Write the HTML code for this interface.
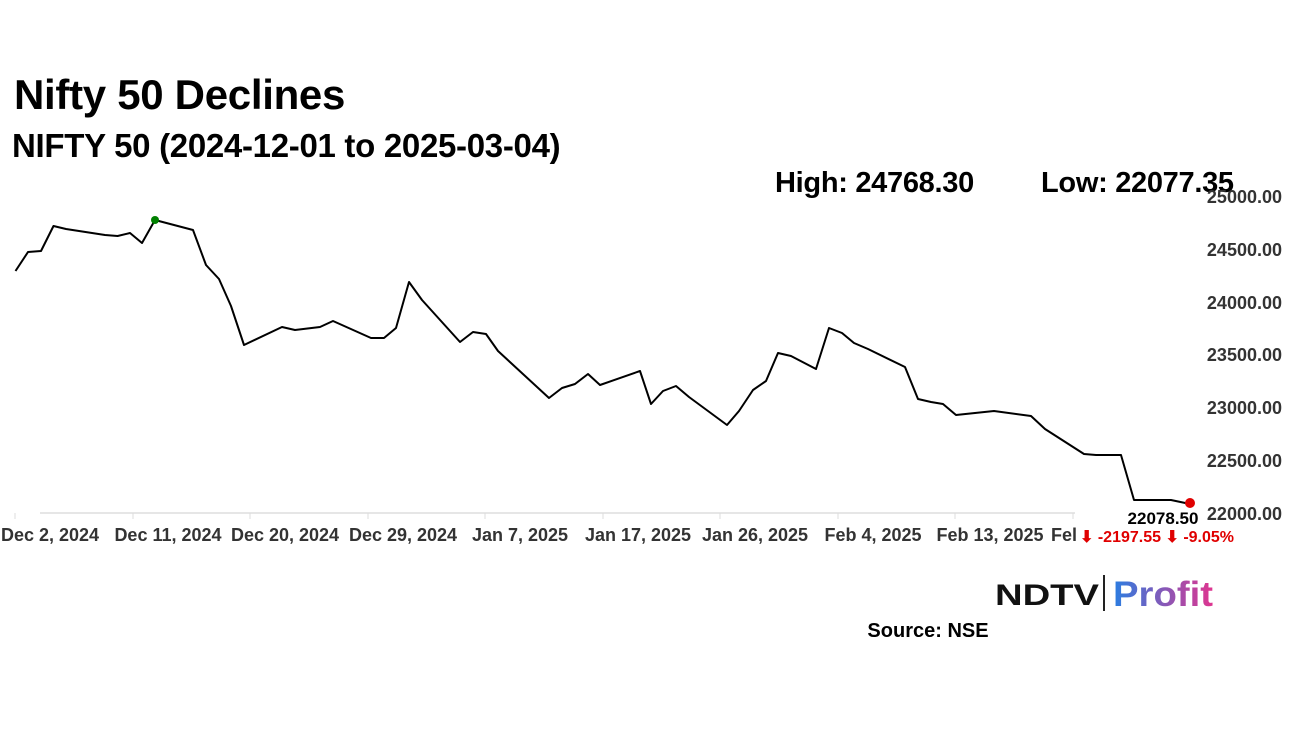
<!DOCTYPE html>
<html><head><meta charset="utf-8"><style>
body{margin:0;width:1296px;height:729px;background:#fff;overflow:hidden;font-family:"Liberation Sans",sans-serif;}
.t{position:absolute;white-space:nowrap;font-weight:bold;color:#000;}
</style></head><body>
<div class="t" style="left:14px;top:71px;font-size:42px;letter-spacing:-0.3px;">Nifty 50 Declines</div>
<div class="t" style="left:12px;top:127px;font-size:33px;letter-spacing:-0.3px;">NIFTY 50 (2024-12-01 to 2025-03-04)</div>
<div class="t" style="left:775px;top:167px;font-size:29px;letter-spacing:-0.3px;">High: 24768.30</div>
<div class="t" style="left:1041px;top:167px;font-size:29px;letter-spacing:-0.3px;">Low: 22077.35</div>
<svg width="1296" height="729" style="position:absolute;left:0;top:0" font-family="Liberation Sans,sans-serif" font-weight="bold">
<line x1="40" y1="513" x2="1075" y2="513" stroke="#ddd" stroke-width="1.5"/>
<g stroke="#ddd"><line x1="15" y1="513" x2="15" y2="519"/><line x1="133" y1="513" x2="133" y2="519"/><line x1="250" y1="513" x2="250" y2="519"/><line x1="368" y1="513" x2="368" y2="519"/><line x1="485" y1="513" x2="485" y2="519"/><line x1="603" y1="513" x2="603" y2="519"/><line x1="720" y1="513" x2="720" y2="519"/><line x1="838" y1="513" x2="838" y2="519"/><line x1="955" y1="513" x2="955" y2="519"/><line x1="1073" y1="513" x2="1073" y2="519"/></g>
<g font-size="18" fill="#333" text-anchor="middle">
<text x="50" y="541">Dec 2, 2024</text><text x="168" y="541">Dec 11, 2024</text><text x="285" y="541">Dec 20, 2024</text><text x="403" y="541">Dec 29, 2024</text><text x="520" y="541">Jan 7, 2025</text><text x="638" y="541">Jan 17, 2025</text><text x="755" y="541">Jan 26, 2025</text><text x="873" y="541">Feb 4, 2025</text><text x="990" y="541">Feb 13, 2025</text><text x="1064" y="541">Fel</text>
</g>
<g font-size="18" fill="#333" text-anchor="end">
<text x="1282" y="203">25000.00</text><text x="1282" y="256">24500.00</text><text x="1282" y="309">24000.00</text><text x="1282" y="361">23500.00</text><text x="1282" y="414">23000.00</text><text x="1282" y="467">22500.00</text><text x="1282" y="520">22000.00</text>
</g>
<polyline fill="none" stroke="#000" stroke-width="2" stroke-linejoin="round" points="15.5,271 28,252 41,251 53.5,226 66,229 105,235 117.6,236 130,233 142,243 155,220 193,230 206,265 219,279 231,306 244,345 282,327 295,330 320,327 333,321 371,338 384,338 396,328 409,282 422,300 460,342 473,332 486,334 498,351 511,363 549,398 562,388 575,384 588,374 600,385 640,371 651,404 663,391 676,386 689,397 727,425 739,411 753,390 766,381 778,353 791,356 816,369 829,328 842,333 854,343 868,349 905,367 918,399 931,402 943,404 956,415 994,411 1031,416 1045,429 1084,454 1096,455 1121,455 1134,500 1171,500 1190,504"/>
<circle cx="155" cy="220" r="4" fill="#008000"/>
<circle cx="1190" cy="503" r="5" fill="#e00000"/>
<text x="1163" y="524" font-size="17" fill="#000" text-anchor="middle">22078.50</text>
<text x="1080" y="542" font-size="16" fill="#e00000">⬇ -2197.55 ⬇ -9.05%</text>
<text x="995" y="605" font-size="30" fill="#111" textLength="104" lengthAdjust="spacingAndGlyphs">NDTV</text>
<line x1="1104" y1="575" x2="1104" y2="611" stroke="#222" stroke-width="2"/>
<defs><linearGradient id="g" x1="0" x2="1"><stop offset="0" stop-color="#2a7de1"/><stop offset="1" stop-color="#e0358f"/></linearGradient></defs>
<text x="1113" y="606" font-size="35" fill="url(#g)" textLength="100" lengthAdjust="spacingAndGlyphs">Profit</text>
<text x="928" y="637" font-size="20" fill="#000" text-anchor="middle">Source: NSE</text>
</svg>
</body></html>
